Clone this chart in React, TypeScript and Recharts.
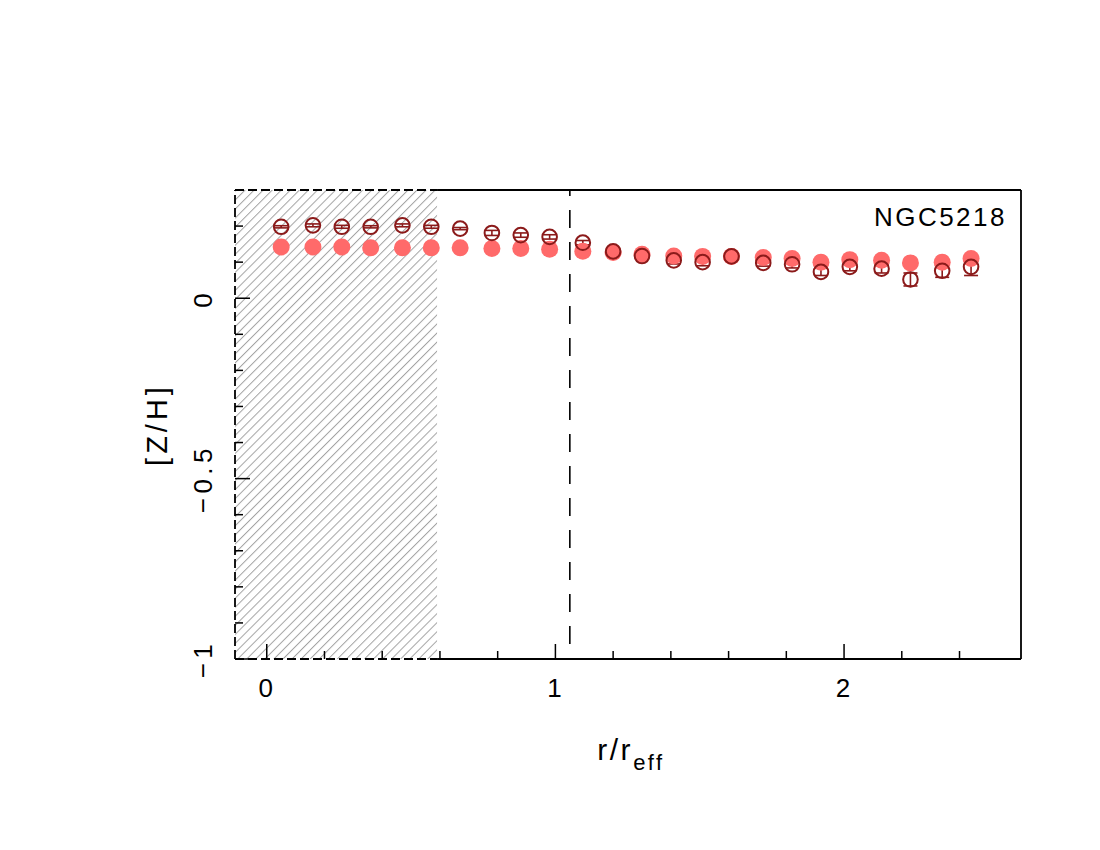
import React from 'react';
import {
  ComposedChart,
  Scatter,
  XAxis,
  YAxis,
  ReferenceLine,
  ReferenceArea,
  ErrorBar,
} from 'recharts';

// ---- data ----
const rValues = [
  0.05, 0.16, 0.26, 0.36, 0.47, 0.57, 0.67, 0.78, 0.88, 0.98, 1.095, 1.2,
  1.3, 1.41, 1.51, 1.61, 1.72, 1.82, 1.92, 2.02, 2.13, 2.23, 2.34, 2.44,
];
const modelZH = [
  0.142, 0.142, 0.142, 0.14, 0.14, 0.14, 0.14, 0.138, 0.138, 0.136, 0.13, 0.127,
  0.122, 0.117, 0.116, 0.116, 0.113, 0.11, 0.1, 0.107, 0.105, 0.098, 0.1, 0.11,
];
const dataZH = [
  0.198, 0.202, 0.198, 0.198, 0.202, 0.198, 0.193, 0.181, 0.175, 0.17, 0.154, 0.13,
  0.117, 0.105, 0.1, 0.116, 0.098, 0.094, 0.073, 0.087, 0.082, 0.052, 0.076, 0.087,
];
const dataErr = [
  0.003, 0.004, 0.004, 0.003, 0.004, 0.004, 0.003, 0.007, 0.006, 0.006, 0.006, 0.008,
  0.007, 0.01, 0.01, 0.007, 0.009, 0.01, 0.01, 0.011, 0.012, 0.018, 0.018, 0.024,
];

const xMajorTicks = [0, 1, 2];
const xAllTicks = [0, 0.2, 0.4, 0.6, 0.8, 1, 1.2, 1.4, 1.6, 1.8, 2, 2.2, 2.4];
const yMajorTicks = [-1, -0.5, 0];
const yAllTicks = [-1, -0.9, -0.8, -0.7, -0.6, -0.5, -0.4, -0.3, -0.2, -0.1, 0, 0.1, 0.2];
const yTickLabels: Record<string, string> = { '-1': '\u22121', '-0.5': '\u22120.5', '0': '0' };

const xMin = -0.11;
const xMax = 2.613;
const yMin = -1;
const yMax = 0.3;
const hatchEnd = 0.59;
const reffLine = 1.05;
const galaxyName = 'NGC5218';

const modelPoints = rValues.map((r, i) => ({ r, zh: modelZH[i] }));
const dataPoints = rValues.map((r, i) => ({ r, zh: dataZH[i], err: dataErr[i] }));

// ---- styles ----
const FONT = '"Liberation Sans", Arial, Helvetica, sans-serif';
const MAJOR = 15;
const MINOR = 8;
const AX = '#000';
const AXW = 1.8;
const FRAME_DASH = '9 4';
const isMajor = (arr: number[], v: number) => arr.some((m) => Math.abs(m - v) < 1e-9);

const BottomTick = (p: any) => {
  const { x, y, payload } = p;
  const major = isMajor(xMajorTicks, payload.value);
  return (
    <g>
      <line x1={x} y1={y} x2={x} y2={y - (major ? MAJOR : MINOR)} stroke={AX} strokeWidth={1.5} />
      {major && (
        <text x={x} y={y + 38} textAnchor="middle" fontSize={26} fontFamily={FONT} fill="#000" letterSpacing={2}>
          {String(payload.value)}
        </text>
      )}
    </g>
  );
};

const TopTick = (p: any) => {
  const { x, y, payload } = p;
  const major = isMajor(xMajorTicks, payload.value);
  return <line x1={x} y1={y} x2={x} y2={y + (major ? MAJOR : MINOR)} stroke={AX} strokeWidth={1.5} />;
};

const LeftTick = (p: any) => {
  const { x, y, payload } = p;
  const major = isMajor(yMajorTicks, payload.value);
  const lbl = yTickLabels[String(payload.value)];
  return (
    <g>
      <line x1={x} y1={y} x2={x + (major ? MAJOR : MINOR)} y2={y} stroke={AX} strokeWidth={1.5} />
      {major && (
        <text
          x={x - 23}
          y={y}
          transform={`rotate(-90 ${x - 23} ${y})`}
          textAnchor="middle"
          fontSize={26}
          fontFamily={FONT}
          fill="#000"
          letterSpacing={4.5}
        >
          {lbl}
        </text>
      )}
    </g>
  );
};

const RightTick = (p: any) => {
  const { x, y, payload } = p;
  const major = isMajor(yMajorTicks, payload.value);
  return <line x1={x} y1={y} x2={x - (major ? MAJOR : MINOR)} y2={y} stroke={AX} strokeWidth={1.5} />;
};

const FilledDot = (p: any) => <circle cx={p.cx} cy={p.cy} r={8.5} fill="#FF6A6A" />;
const OpenDot = (p: any) => (
  <circle cx={p.cx} cy={p.cy} r={7.3} fill="none" stroke="#8B1A1A" strokeWidth={2} />
);

const XLabel = (p: any) => {
  const vb = p.viewBox || { x: 235, width: 786, y: 659 };
  const cx = vb.x + vb.width / 2 + 3;
  return (
    <text x={cx} y={vb.y + 101} textAnchor="middle" fontSize={30} fontFamily={FONT} fill="#000" letterSpacing={2.5}>
      r/r
      <tspan dy={10} fontSize={22}>
        eff
      </tspan>
    </text>
  );
};

const YLabel = (p: any) => {
  const vb = p.viewBox || { x: 175, y: 190, height: 469 };
  const cy = vb.y + vb.height / 2;
  const x = 167;
  return (
    <text
      x={x}
      y={cy}
      transform={`rotate(-90 ${x} ${cy})`}
      textAnchor="middle"
      fontSize={29}
      fontFamily={FONT}
      fill="#000"
      letterSpacing={4}
    >
      [Z/H]
    </text>
  );
};

const NameLabel = (p: any) => {
  const vb = p.viewBox || { x: 437, y: 190, width: 584 };
  return (
    <text
      x={vb.x + vb.width - 14}
      y={vb.y + 36}
      textAnchor="end"
      fontSize={26}
      fontFamily={FONT}
      fill="#000"
      letterSpacing={2.5}
    >
      {galaxyName}
    </text>
  );
};

export default function App() {
  return (
    <div style={{ position: 'absolute', left: 0, top: 0, width: 1100, height: 850, background: '#fff' }}>
      <ComposedChart
        width={1100}
        height={850}
        margin={{ top: 190, right: 79, bottom: 131, left: 175 }}
      >
        <defs>
          <pattern id="hatch" patternUnits="userSpaceOnUse" width={6.4} height={6.4} patternTransform="rotate(45)">
            <line x1={0} y1={-1} x2={0} y2={8} stroke="#a3a3a3" strokeWidth={2} />
          </pattern>
        </defs>
        <XAxis
          xAxisId="b"
          type="number"
          dataKey="r"
          domain={[xMin, xMax]}
          ticks={xAllTicks}
          interval={0}
          allowDataOverflow
          axisLine={false}
          tickLine={false}
          tickSize={0}
          tickMargin={0}
          height={60}
          tick={<BottomTick />}
          label={{ content: <XLabel /> }}
        />
        <XAxis
          xAxisId="t"
          orientation="top"
          type="number"
          dataKey="r"
          domain={[xMin, xMax]}
          ticks={xAllTicks}
          interval={0}
          allowDataOverflow
          axisLine={false}
          tickLine={false}
          tickSize={0}
          tickMargin={0}
          height={0}
          tick={<TopTick />}
        />
        <YAxis
          yAxisId="l"
          type="number"
          dataKey="zh"
          domain={[yMin, yMax]}
          ticks={yAllTicks}
          interval={0}
          allowDataOverflow
          axisLine={false}
          tickLine={false}
          tickSize={0}
          tickMargin={0}
          width={60}
          tick={<LeftTick />}
          label={{ content: <YLabel /> }}
        />
        <YAxis
          yAxisId="r"
          orientation="right"
          type="number"
          dataKey="zh"
          domain={[yMin, yMax]}
          ticks={yAllTicks}
          interval={0}
          allowDataOverflow
          axisLine={false}
          tickLine={false}
          tickSize={0}
          tickMargin={0}
          width={0}
          tick={<RightTick />}
        />

        <ReferenceArea
          xAxisId="b"
          yAxisId="l"
          x1={xMin}
          x2={hatchEnd}
          y1={yMin}
          y2={yMax}
          fill="url(#hatch)"
          fillOpacity={1}
          stroke="none"
          ifOverflow="visible"
        />

        {/* frame: dashed where hatched, solid elsewhere */}
        <ReferenceLine xAxisId="b" yAxisId="l" segment={[{ x: xMin, y: yMax }, { x: hatchEnd, y: yMax }]} stroke={AX} strokeWidth={AXW} strokeDasharray={FRAME_DASH} ifOverflow="visible" />
        <ReferenceLine xAxisId="b" yAxisId="l" segment={[{ x: xMin, y: yMin }, { x: hatchEnd, y: yMin }]} stroke={AX} strokeWidth={AXW} strokeDasharray={FRAME_DASH} ifOverflow="visible" />
        <ReferenceLine xAxisId="b" yAxisId="l" segment={[{ x: xMin, y: yMin }, { x: xMin, y: yMax }]} stroke={AX} strokeWidth={AXW} strokeDasharray={FRAME_DASH} ifOverflow="visible" />
        <ReferenceLine
          xAxisId="b"
          yAxisId="l"
          segment={[{ x: hatchEnd, y: yMax }, { x: xMax, y: yMax }]}
          stroke={AX}
          strokeWidth={AXW}
          ifOverflow="visible"
          label={{ content: <NameLabel /> }}
        />
        <ReferenceLine xAxisId="b" yAxisId="l" segment={[{ x: hatchEnd, y: yMin }, { x: xMax, y: yMin }]} stroke={AX} strokeWidth={AXW} ifOverflow="visible" />
        <ReferenceLine xAxisId="b" yAxisId="l" segment={[{ x: xMax, y: yMin }, { x: xMax, y: yMax }]} stroke={AX} strokeWidth={AXW} ifOverflow="visible" />

        <ReferenceLine xAxisId="b" yAxisId="l" x={reffLine} stroke={AX} strokeWidth={1.6} strokeDasharray="18 14" strokeDashoffset={17} />

        <Scatter
          xAxisId="b"
          yAxisId="l"
          data={modelPoints}
          shape={<FilledDot />}
          isAnimationActive={false}
        />
        <Scatter
          xAxisId="b"
          yAxisId="l"
          data={dataPoints}
          shape={<OpenDot />}
          isAnimationActive={false}
        >
          <ErrorBar dataKey="err" direction="y" width={7} stroke="#8B1A1A" strokeWidth={1.6} />
        </Scatter>
      </ComposedChart>
    </div>
  );
}
